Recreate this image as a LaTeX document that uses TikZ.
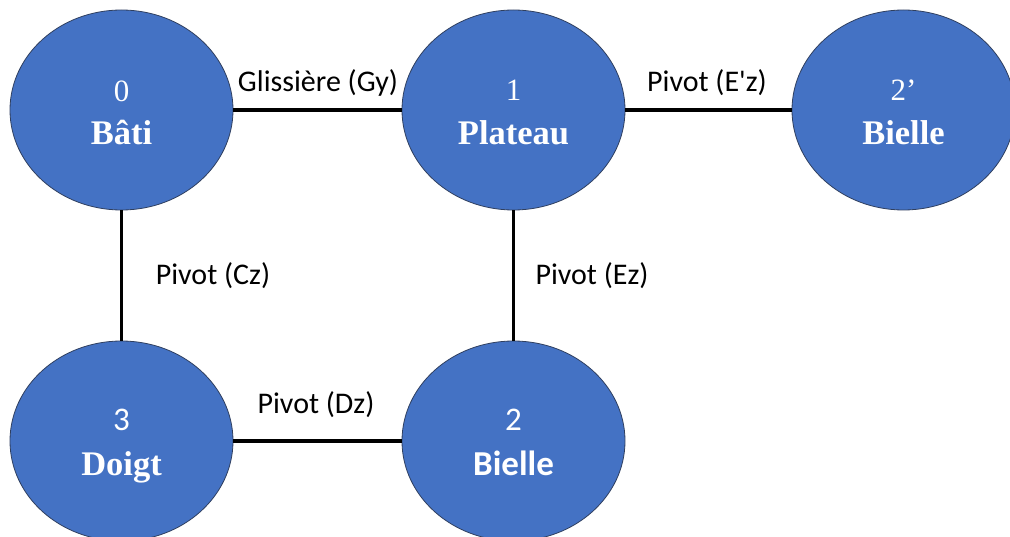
\documentclass[tikz,border=0pt]{standalone}
\usepackage{fontspec}
\setmainfont{Liberation Serif}
\newfontfamily\carlito{Carlito}
\usetikzlibrary{shapes.geometric}
\definecolor{partblue}{HTML}{4472C4}
\definecolor{partedge}{HTML}{2F3F5F}
\tikzset{
  part/.style={ellipse, fill=partblue, draw=partedge, line width=0.8pt,
    minimum width=223pt, minimum height=200pt, inner sep=0pt},
  link/.style={line width=3.4pt, black},
  numser/.style={anchor=base, text=white, inner sep=0pt, font=\fontsize{31}{31}\selectfont},
  numsans/.style={anchor=base, text=white, inner sep=0pt, font=\carlito\fontsize{33}{33}\selectfont},
  nameser/.style={anchor=base, text=white, inner sep=0pt, font=\bfseries\fontsize{34.5}{34.5}\selectfont},
  namesans/.style={anchor=base, text=white, inner sep=0pt, font=\carlito\bfseries\fontsize{35}{35}\selectfont},
  lbl/.style={anchor=center, text=black, inner sep=0pt, font=\carlito\fontsize{30}{30}\selectfont}
}
\begin{document}
\begin{tikzpicture}[x=1pt,y=-1pt]
\useasboundingbox (0,0) rectangle (1010,537);
\clip (0,0) rectangle (1010,537);
% parts
\node[part] (n0) at (121.5,110) {};
\node[part] (n1) at (513.5,110) {};
\node[part] (n2p) at (903.5,110) {};
\node[part] (n3) at (121.5,441) {};
\node[part] (n2) at (513.5,441) {};
% links
\draw[link] (n0) -- (n1);
\draw[link] (n1) -- (n2p);
\draw[link] (n0) -- (n3);
\draw[link] (n1) -- (n2);
\draw[link] (n3) -- (n2);
% texts in parts
\node[numser] (t0a) at (121.5,102) {0};
\node[nameser] (t0b) at (121.5,145) {Bâti};
\node[numser] (t1a) at (513.5,101) {1};
\node[nameser] (t1b) at (513.5,145) {Plateau};
\node[numser] (t2pa) at (903.5,101) {2’};
\node[nameser] (t2pb) at (903.5,145) {Bielle};
\node[numsans] (t3a) at (121.5,430) {3};
\node[nameser] (t3b) at (121.5,475) {Doigt};
\node[numsans] (t2a) at (513.5,430) {2};
\node[namesans] (t2b) at (513.5,475) {Bielle};
% link labels
\node[lbl] (l01) at (318,83) {Glissière (Gy)};
\node[lbl] (l12p) at (707,83) {Pivot (E'z)};
\node[lbl] (l03) at (213,276) {Pivot (Cz)};
\node[lbl] (l12) at (592,276) {Pivot (Ez)};
\node[lbl] (l32) at (316,405) {Pivot (Dz)};
\end{tikzpicture}
\end{document}
